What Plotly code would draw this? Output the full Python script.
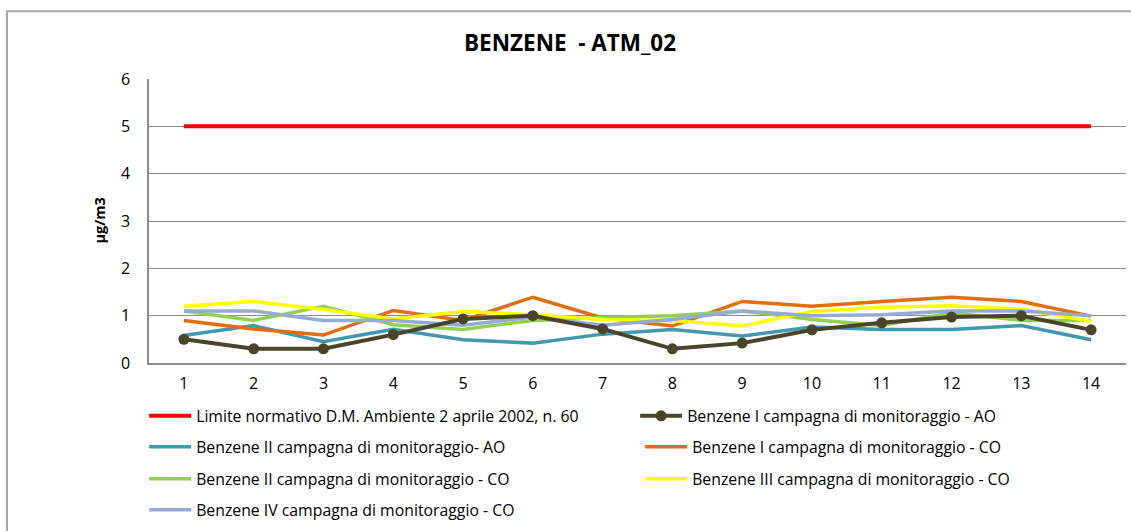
import plotly.graph_objects as go

# ---- data ----
campioni = list(range(1, 15))
limite = [5] * 14
ao_I = [0.5, 0.3, 0.3, 0.6, 0.93, 1.0, 0.72, 0.3, 0.42, 0.7, 0.85, 0.97, 1.0, 0.7]
ao_II = [0.58, 0.79, 0.45, 0.71, 0.49, 0.42, 0.61, 0.71, 0.57, 0.76, 0.71, 0.71, 0.79, 0.49]
co_I = [0.9, 0.72, 0.59, 1.11, 0.9, 1.39, 0.95, 0.78, 1.3, 1.2, 1.3, 1.39, 1.3, 0.99]
co_II = [1.1, 0.9, 1.2, 0.81, 0.71, 0.9, 0.96, 1.0, 1.1, 0.92, 0.79, 1.06, 0.9, 0.9]
co_III = [1.2, 1.3, 1.13, 0.93, 1.09, 1.02, 0.92, 0.9, 0.78, 1.09, 1.18, 1.21, 1.14, 0.88]
co_IV = [1.1, 1.1, 0.9, 0.9, 0.8, 0.97, 0.8, 0.92, 1.1, 1.0, 1.02, 1.1, 1.1, 1.0]

names = [
    "Limite normativo D.M. Ambiente 2 aprile 2002, n. 60",
    "Benzene I campagna di monitoraggio - AO",
    "Benzene II campagna di monitoraggio- AO",
    "Benzene I campagna di monitoraggio - CO",
    "Benzene II campagna di monitoraggio - CO",
    "Benzene III campagna di monitoraggio - CO",
    "Benzene IV campagna di monitoraggio - CO",
]
colors = ["#FF0000", "#4A452A", "#4198AF", "#E46C0A", "#92D050", "#FFFF00", "#95ABD5"]
series = [limite, ao_I, ao_II, co_I, co_II, co_III, co_IV]

FONT = "Open Sans"
W, H = 1131, 531
L, R, T, B = 149, W - 1126, 79, H - 364

def px_x(p):
    return (p - L) / (W - L - R)

def px_y(p):
    return (H - B - p) / (H - T - B)

fig = go.Figure()

legend_pos = [
    (150, 416), (641, 416),
    (150, 447), (646, 447),
    (150, 479), (646, 479),
    (150, 510),
]

draw_order = [0, 2, 3, 4, 5, 6, 1]
for i in draw_order:
    lg = "legend" if i == 0 else f"legend{i+1}"
    if i == 1:
        fig.add_trace(go.Scatter(
            x=campioni, y=series[i], name=names[i], mode="lines+markers",
            line=dict(color=colors[i], width=4),
            marker=dict(color=colors[i], size=11, symbol="circle"),
            legend=lg,
        ))
    else:
        fig.add_trace(go.Scatter(
            x=campioni, y=series[i], name=names[i], mode="lines",
            line=dict(color=colors[i], width=4 if i == 0 else 3.5),
            legend=lg,
        ))

legend_layout = {}
for i, (lx, ly) in enumerate(legend_pos):
    key = "legend" if i == 0 else f"legend{i+1}"
    legend_layout[key] = dict(
        x=px_x(lx) - 0.006, y=px_y(ly), xanchor="left", yanchor="middle",
        orientation="h", itemwidth=42, bgcolor="rgba(0,0,0,0)",
        font=dict(family=FONT, size=15.8, color="#000000"),
    )

fig.update_layout(
    width=W, height=H,
    margin=dict(l=L, r=R, t=T, b=B),
    paper_bgcolor="white", plot_bgcolor="white",
    showlegend=True,
    font=dict(family=FONT, size=16, color="#000000"),
    xaxis=dict(
        range=[0.5, 14.5], tickmode="array", tickvals=campioni,
        ticktext=[str(c) for c in campioni],
        showgrid=False, showline=True, linecolor="#8C8C8C", linewidth=1.5,
        ticks="", zeroline=False, ticklabelstandoff=5,
        tickfont=dict(family=FONT, size=16, color="#000000"),
    ),
    yaxis=dict(
        range=[0, 6], dtick=1, tick0=0,
        showgrid=True, gridcolor="#8C8C8C", gridwidth=1,
        showline=True, linecolor="#8C8C8C", linewidth=1.5,
        zeroline=False, ticks="", ticklabelstandoff=14,
        tickfont=dict(family=FONT, size=16, color="#000000"),
    ),
    annotations=[
        dict(text="<b>BENZENE  - ATM_02</b>", xref="paper", yref="paper",
             x=px_x(570), y=px_y(42), xanchor="center", yanchor="middle",
             showarrow=False, font=dict(family=FONT, size=22.5, color="#000000")),
        dict(text="<b>µg/m3</b>", xref="paper", yref="paper",
             x=px_x(100), y=px_y(221), xanchor="center", yanchor="middle",
             textangle=-90, showarrow=False,
             font=dict(family=FONT, size=14.5, color="#000000")),
    ],
    shapes=[
        dict(type="rect", xref="paper", yref="paper",
             x0=px_x(7), x1=px_x(1145), y0=px_y(545), y1=px_y(11),
             line=dict(color="#A6A6A6", width=2), fillcolor="rgba(0,0,0,0)",
             layer="below"),
    ],
    **legend_layout,
)

fig.write_html(
    "out.html",
    config={"displayModeBar": False},
    post_script="document.body.style.margin='0';document.body.style.overflow='hidden';",
)
